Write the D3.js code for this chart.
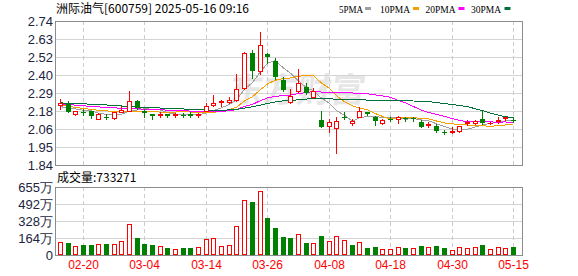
<!DOCTYPE html>
<html>
<head>
<meta charset="utf-8">
<script src="https://cdn.jsdelivr.net/npm/d3@7"></script>
<style>
  body { margin: 0; background: #fff; }
  svg { display: block; }
</style>
</head>
<body>
<div id="chart"></div>
<script>
///////////// data /////////////////

const dates = [
    "02-17", "02-18", "02-19", "02-20", "02-21", "02-24", "02-25", "02-26", "02-27", "02-28",
    "03-03", "03-04", "03-05", "03-06", "03-07", "03-10", "03-11", "03-12", "03-13", "03-14",
    "03-17", "03-18", "03-19", "03-20", "03-21", "03-24", "03-25", "03-26", "03-27", "03-28",
    "03-31", "04-01", "04-02", "04-03", "04-07", "04-08", "04-09", "04-10", "04-11", "04-14",
    "04-15", "04-16", "04-17", "04-18", "04-21", "04-22", "04-23", "04-24", "04-25", "04-28",
    "04-29", "04-30", "05-06", "05-07", "05-08", "05-09", "05-12", "05-13", "05-14", "05-15"
];

const opens = [
    2.213, 2.221, 2.161, 2.171, 2.175, 2.127, 2.142, 2.131, 2.171, 2.180,
    2.240, 2.175, 2.158, 2.150, 2.158, 2.150, 2.154, 2.156, 2.150, 2.177,
    2.215, 2.234, 2.234, 2.246, 2.319, 2.543, 2.430, 2.533, 2.490, 2.374,
    2.236, 2.305, 2.326, 2.263, 2.122, 2.081, 2.072, 2.143, 2.102, 2.141,
    2.169, 2.141, 2.100, 2.130, 2.129, 2.133, 2.131, 2.108, 2.090, 2.085,
    2.046, 2.046, 2.050, 2.100, 2.102, 2.125, 2.100, 2.117, 2.133, 2.122
];
const highs = [
    2.252, 2.238, 2.175, 2.188, 2.179, 2.163, 2.161, 2.173, 2.207, 2.305,
    2.248, 2.192, 2.160, 2.169, 2.160, 2.165, 2.163, 2.169, 2.167, 2.228,
    2.280, 2.244, 2.263, 2.411, 2.547, 2.560, 2.670, 2.539, 2.510, 2.389,
    2.318, 2.441, 2.353, 2.321, 2.179, 2.129, 2.141, 2.169, 2.130, 2.200,
    2.172, 2.145, 2.127, 2.140, 2.146, 2.141, 2.141, 2.120, 2.110, 2.097,
    2.060, 2.075, 2.085, 2.120, 2.122, 2.179, 2.110, 2.139, 2.139, 2.139
];
const lows = [
    2.191, 2.171, 2.150, 2.152, 2.131, 2.125, 2.129, 2.129, 2.169, 2.175,
    2.192, 2.142, 2.129, 2.140, 2.138, 2.142, 2.142, 2.142, 2.140, 2.175,
    2.209, 2.209, 2.230, 2.242, 2.313, 2.382, 2.410, 2.480, 2.378, 2.305,
    2.227, 2.298, 2.285, 2.259, 2.075, 2.047, 1.913, 2.127, 2.092, 2.138,
    2.150, 2.091, 2.098, 2.112, 2.102, 2.114, 2.114, 2.078, 2.080, 2.048,
    2.031, 2.041, 2.045, 2.087, 2.098, 2.098, 2.098, 2.104, 2.122, 2.110
];
const closes = [
    2.227, 2.171, 2.175, 2.169, 2.146, 2.156, 2.133, 2.169, 2.184, 2.238,
    2.196, 2.167, 2.146, 2.158, 2.146, 2.156, 2.152, 2.148, 2.156, 2.209,
    2.230, 2.242, 2.246, 2.313, 2.543, 2.430, 2.593, 2.514, 2.388, 2.311,
    2.271, 2.351, 2.290, 2.302, 2.078, 2.106, 2.116, 2.139, 2.118, 2.175,
    2.156, 2.112, 2.121, 2.128, 2.137, 2.129, 2.130, 2.080, 2.095, 2.050,
    2.043, 2.050, 2.083, 2.106, 2.118, 2.100, 2.104, 2.121, 2.137, 2.118
];

// volume in 万 (10k)
const volumes = [
    122, 113, 87, 96, 96, 103, 106, 103, 132, 295,
    164, 106, 96, 87, 67, 58, 67, 67, 74, 151,
    161, 87, 93, 276, 527, 510, 616, 356, 260, 175,
    164, 202, 116, 116, 186, 135, 183, 144, 96, 125,
    67, 80, 55, 58, 77, 67, 67, 90, 77, 87,
    67, 45, 77, 67, 77, 96, 58, 77, 67, 73.3
];

const ma5 = [
    2.205, 2.195, 2.190, 2.182, 2.178, 2.164, 2.156, 2.156, 2.158, 2.176,
    2.184, 2.192, 2.188, 2.184, 2.166, 2.158, 2.154, 2.154, 2.154, 2.166,
    2.180, 2.198, 2.218, 2.248, 2.314, 2.354, 2.424, 2.476, 2.492, 2.446,
    2.414, 2.366, 2.322, 2.304, 2.258, 2.226, 2.180, 2.150, 2.114, 2.134,
    2.144, 2.142, 2.138, 2.140, 2.132, 2.126, 2.130, 2.122, 2.116, 2.098,
    2.080, 2.064, 2.064, 2.064, 2.078, 2.090, 2.100, 2.108, 2.116, 2.116
];
const ma10 = [
    2.215, 2.208, 2.200, 2.193, 2.187, 2.182, 2.178, 2.175, 2.174, 2.177,
    2.174, 2.174, 2.172, 2.171, 2.171, 2.171, 2.173, 2.171, 2.169, 2.166,
    2.169, 2.176, 2.186, 2.201, 2.240, 2.267, 2.311, 2.347, 2.370, 2.380,
    2.384, 2.395, 2.399, 2.398, 2.352, 2.320, 2.273, 2.236, 2.209, 2.196,
    2.185, 2.161, 2.144, 2.127, 2.133, 2.135, 2.136, 2.130, 2.128, 2.115,
    2.103, 2.097, 2.093, 2.090, 2.088, 2.085, 2.082, 2.086, 2.090, 2.097
];
const ma20 = [
    2.222, 2.218, 2.214, 2.210, 2.206, 2.203, 2.200, 2.197, 2.195, 2.193,
    2.191, 2.189, 2.187, 2.185, 2.183, 2.181, 2.179, 2.177, 2.175, 2.172,
    2.172, 2.175, 2.179, 2.186, 2.206, 2.219, 2.242, 2.259, 2.270, 2.273,
    2.277, 2.286, 2.293, 2.300, 2.296, 2.294, 2.292, 2.292, 2.290, 2.288,
    2.285, 2.278, 2.272, 2.263, 2.243, 2.228, 2.205, 2.183, 2.169, 2.156,
    2.144, 2.129, 2.119, 2.109, 2.111, 2.110, 2.109, 2.108, 2.109, 2.106
];
const ma30 = [
    2.228, 2.226, 2.224, 2.222, 2.220, 2.218, 2.215, 2.212, 2.209, 2.206,
    2.203, 2.200, 2.198, 2.196, 2.194, 2.192, 2.190, 2.188, 2.186, 2.184,
    2.183, 2.183, 2.184, 2.187, 2.196, 2.204, 2.214, 2.225, 2.234, 2.241,
    2.242, 2.248, 2.252, 2.257, 2.254, 2.253, 2.252, 2.251, 2.249, 2.247,
    2.246, 2.244, 2.243, 2.242, 2.242, 2.241, 2.240, 2.238, 2.236, 2.230,
    2.224, 2.218, 2.212, 2.205, 2.191, 2.180, 2.164, 2.151, 2.142, 2.136
];

const priceTickLabels = ["1.84", "1.95", "2.06", "2.18", "2.29", "2.40", "2.52", "2.63", "2.74"];
const volTickLabels = ["0", "164万", "328万", "492万", "655万"];
const dateTicks = ["02-20", "03-04", "03-14", "03-26", "04-08", "04-18", "04-30", "05-15"];

const maNames = ["5PMA", "10PMA", "20PMA", "30PMA"];
const maColors = ["#a0a0a0", "#f4a000", "#ff00ff", "#00703a"];

///////////// layout /////////////////

const W = 578, H = 276;
const pLeft = 55, pRight = 522;
const pTop = 21, pBottom = 165;
const vTop = 187, vBottom = 255;
const UP = "#ff0000", DOWN = "#008000";

const svg = d3.select("#chart").append("svg")
    .attr("width", W).attr("height", H)
    .style("font-family", "'Liberation Sans', Arial, sans-serif");

const x = d3.scaleBand().domain(dates).range([56.5, 517.3]);
const cx = d => Math.floor(x(d) + x.bandwidth() / 2) + 0.5;

const y = d3.scaleLinear().domain([1.84, 2.74]).range([pBottom, pTop]);
const priceTicks = d3.range(9).map(k => 1.84 + k * 0.1125);

const yv = d3.scaleLinear().domain([0, 655]).range([vBottom, vTop]);
const volTicks = [0, 163.75, 327.5, 491.25, 655];

const crisp = v => Math.round(v) + 0.5;

//title
svg.append("text")
    .attr("x", 56).attr("y", 13)
    .style("font-family", "'Noto Sans CJK SC', sans-serif")
    .style("font-size", "12px")
    .attr("fill", "#000")
    .text("洲际油气[600759] 2025-05-16 09:16");

//legend (text start, swatch start)
const legendX = [339, 380, 425.5, 471];
const swatchX = [365, 413, 458.5, 504.5];
maNames.forEach((name, i) => {
    svg.append("text")
        .attr("x", legendX[i]).attr("y", 12.8)
        .style("font-family", "'Liberation Serif', serif")
        .style("font-size", "11px")
        .attr("textLength", name.length * 6)
        .attr("lengthAdjust", "spacingAndGlyphs")
        .attr("fill", "#000")
        .text(name);
    svg.append("rect")
        .attr("x", swatchX[i]).attr("y", 7)
        .attr("width", 6).attr("height", 3)
        .attr("fill", maColors[i]);
});

//watermark
svg.append("text")
    .attr("x", 242).attr("y", 102)
    .style("font-family", "'Noto Sans CJK SC', sans-serif")
    .style("font-size", "34px")
    .style("font-weight", "bold")
    .attr("fill", "#e6e6e6")
    .attr("transform", "skewX(-8)")
    .text("东方财富");

///////////// price panel /////////////////

const grid = svg.append("g").attr("shape-rendering", "crispEdges");

priceTicks.slice(1, -1).forEach(t => {
    grid.append("line")
        .attr("x1", pLeft).attr("x2", pRight)
        .attr("y1", crisp(y(t))).attr("y2", crisp(y(t)))
        .attr("stroke", "#d4d4d4");
});
volTicks.slice(1, -1).forEach(t => {
    grid.append("line")
        .attr("x1", pLeft).attr("x2", pRight)
        .attr("y1", crisp(yv(t))).attr("y2", crisp(yv(t)))
        .attr("stroke", "#d4d4d4");
});
dateTicks.forEach(d => {
    [[pTop, pBottom], [vTop, vBottom]].forEach(([a, b]) => {
        grid.append("line")
            .attr("x1", cx(d)).attr("x2", cx(d))
            .attr("y1", a).attr("y2", b)
            .attr("stroke", "#cccccc")
            .attr("stroke-dasharray", "4,3");
    });
});

//y labels
svg.selectAll(".ylab").data(priceTicks).enter().append("text")
    .attr("class", "ylab")
    .attr("x", 53).attr("y", d => y(d) + 4.5)
    .attr("text-anchor", "end")
    .style("font-size", "13px")
    .attr("fill", "#1c2540")
    .text((d, i) => priceTickLabels[i]);

svg.selectAll(".vlab").data(volTicks).enter().append("text")
    .attr("class", "vlab")
    .attr("x", 53).attr("y", d => yv(d) + 4.5)
    .attr("text-anchor", "end")
    .style("font-size", "13px")
    .attr("fill", "#1c2540")
    .text((d, i) => volTickLabels[i]);

//x labels
svg.selectAll(".xlab").data(dateTicks).enter().append("text")
    .attr("class", "xlab")
    .attr("x", d => cx(d)).attr("y", 269)
    .attr("text-anchor", "middle")
    .style("font-size", "12px")
    .attr("fill", UP)
    .text(d => d);

//MA lines
const maSeries = [ma5, ma10, ma20, ma30];
const line = d3.line().x(d => cx(d.date)).y(d => y(d.v));
maSeries.forEach((s, k) => {
    svg.append("path")
        .datum(dates.map((date, i) => ({ date: date, v: s[i] })))
        .attr("d", line)
        .attr("fill", "none")
        .attr("stroke", maColors[k])
        .attr("stroke-width", 1)
        .attr("shape-rendering", "crispEdges");
});

//candles
const candles = svg.append("g").attr("shape-rendering", "crispEdges");
dates.forEach((d, i) => {
    const xc = cx(d);
    const o = opens[i], c = closes[i];
    const up = c >= o;
    const col = up ? UP : DOWN;
    const yTop = Math.round(y(Math.max(o, c)));
    const yBot = Math.round(y(Math.min(o, c)));
    const yH = Math.round(y(highs[i]));
    const yL = Math.round(y(lows[i]));
    if (up) {
        candles.append("line").attr("x1", xc).attr("x2", xc)
            .attr("y1", yH).attr("y2", yTop).attr("stroke", col);
        candles.append("line").attr("x1", xc).attr("x2", xc)
            .attr("y1", yBot).attr("y2", yL + 1).attr("stroke", col);
        if (yBot - yTop < 2) {
            candles.append("rect").attr("x", xc - 2.5).attr("y", yTop)
                .attr("width", 5).attr("height", Math.max(1, yBot - yTop + 1)).attr("fill", col);
        } else {
            candles.append("rect").attr("x", xc - 2).attr("y", yTop + 0.5)
                .attr("width", 4).attr("height", yBot - yTop)
                .attr("fill", "#fff").attr("stroke", col);
        }
    } else {
        candles.append("line").attr("x1", xc).attr("x2", xc)
            .attr("y1", yH).attr("y2", yL + 1).attr("stroke", col);
        candles.append("rect").attr("x", xc - 2.5).attr("y", yTop)
            .attr("width", 5).attr("height", Math.max(1, yBot - yTop))
            .attr("fill", col);
    }
});

///////////// volume panel /////////////////

svg.append("text")
    .attr("x", 57).attr("y", 182)
    .style("font-family", "'Noto Sans CJK SC', sans-serif")
    .style("font-size", "12px")
    .attr("fill", "#000")
    .text("成交量:733271");

const bars = svg.append("g").attr("shape-rendering", "crispEdges");
dates.forEach((d, i) => {
    const xc = cx(d);
    //volume colour follows close vs previous close
    const up = i === 0 ? closes[i] >= opens[i] : closes[i] >= closes[i - 1];
    const yt = Math.round(yv(volumes[i]));
    if (up) {
        bars.append("rect").attr("x", xc - 2).attr("y", yt + 0.5)
            .attr("width", 4).attr("height", vBottom - yt - 1)
            .attr("fill", "#fff").attr("stroke", UP);
    } else {
        bars.append("rect").attr("x", xc - 2.5).attr("y", yt)
            .attr("width", 5).attr("height", vBottom - yt)
            .attr("fill", DOWN);
    }
});

//frames
[[pTop, pBottom], [vTop, vBottom]].forEach(([a, b]) => {
    svg.append("rect")
        .attr("x", pLeft + 0.5).attr("y", a + 0.5)
        .attr("width", pRight - pLeft).attr("height", b - a)
        .attr("fill", "none")
        .attr("stroke", "#8c8c8c")
        .attr("stroke-width", 1.3)
        .attr("shape-rendering", "crispEdges");
});
</script>
</body>
</html>
